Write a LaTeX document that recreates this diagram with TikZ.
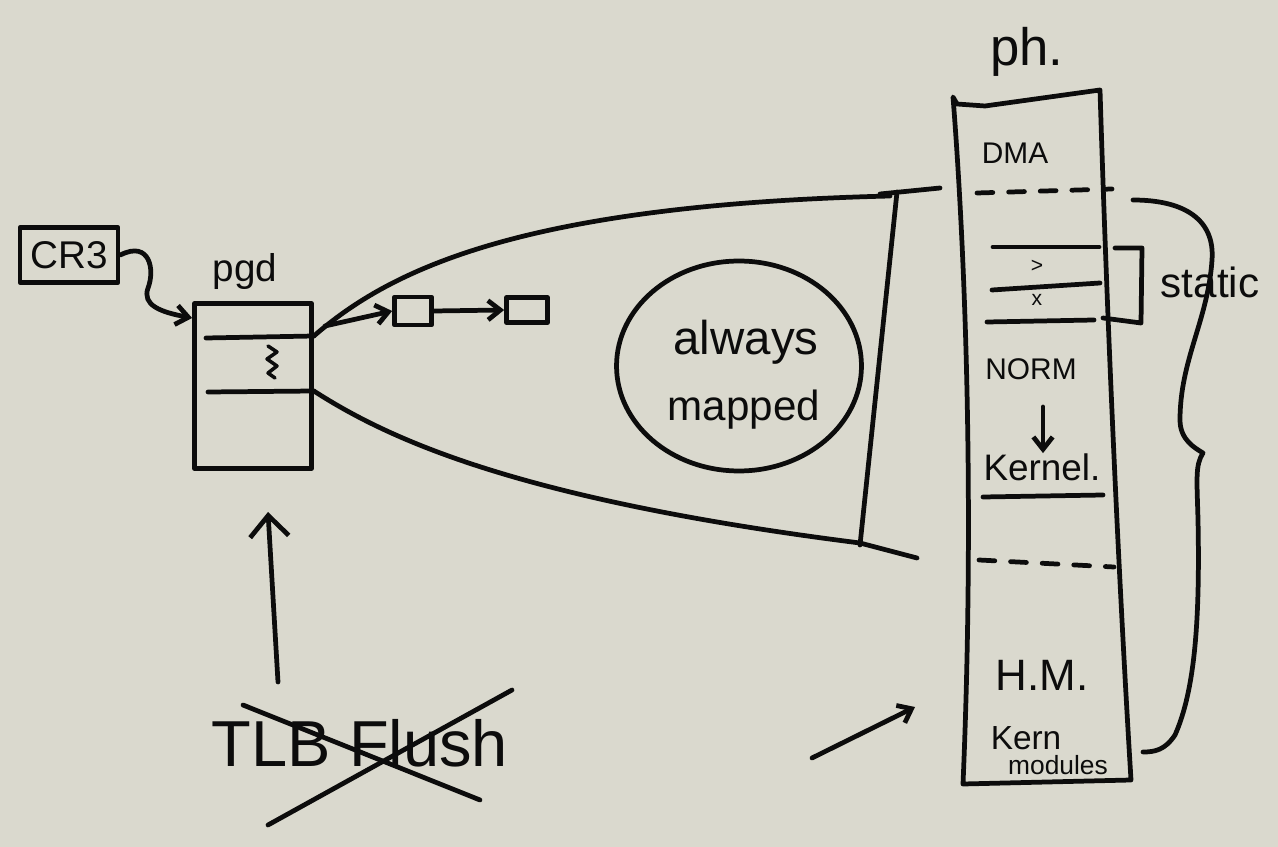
\documentclass[tikz,border=0pt]{standalone}
\usepackage{fontspec}
\setmainfont{Liberation Sans}
\usetikzlibrary{arrows.meta,shapes.geometric}
\definecolor{bg}{RGB}{218,217,206}
\definecolor{inkc}{RGB}{12,12,12}
\begin{document}
\begin{tikzpicture}[x=0.02cm,y=-0.02cm,
  ink/.style={draw=inkc,line width=2.7pt,line cap=round,line join=round},
  arr/.style={ink,-{Straight Barb[length=7pt,width=11pt,line width=2.7pt]}},
  bigarr/.style={ink,-{Straight Barb[length=12pt,width=22pt,line width=2.7pt]}},
  lbl/.style={text=inkc,inner sep=0pt},
  dashedink/.style={ink,dash pattern=on 9pt off 9pt},
  fs/.style={font=\fontsize{#1}{#1}\selectfont}]
\fill[bg] (0,0) rectangle (1278,847);
\useasboundingbox (0,0) rectangle (1278,847);

% CR3 register
\node[ink,lbl,fs=22,minimum width=1.96cm,minimum height=1.1cm] (cr3) at (69,255) {CR3};
% pgd table
\node[ink,minimum width=2.34cm,minimum height=3.3cm,inner sep=0pt] (pgd) at (253,386) {};
\node[lbl,fs=22] (pgdl) at (245,272) {pgd};
\coordinate (e1l) at (206,338); \coordinate (e1r) at (pgd.east |- 0,336);
\coordinate (e2l) at (208,392); \coordinate (e2r) at (pgd.east |- 0,391);
\draw[ink] (e1l) -- (e1r);
\draw[ink] (e2l) -- (e2r);
\draw[ink,line width=2pt] (268,346) -- (277,352) -- (267,359) -- (277,366) -- (268,373) -- (275,378);

\draw[arr] (cr3.east) .. controls (150,240) and (155,270) .. (148,288)
  .. controls (142,305) and (160,312) .. (pgd.west |- 0,318);

% lower level tables
\node[ink,minimum width=0.74cm,minimum height=0.56cm,inner sep=0pt] (t1) at (413,311) {};
\node[ink,minimum width=0.82cm,minimum height=0.5cm,inner sep=0pt] (t2) at (527,310) {};
\coordinate (a0) at (325,326);
\draw[arr] (a0) -- (t1.west);
\draw[arr] (t1.east) -- (t2.west);

% funnel to physical memory
\coordinate (ftop) at (890,196);
\coordinate (fbot) at (917,558);
\draw[ink] (e1r) .. controls (390,270) and (520,205) .. (ftop);
\draw[ink] (e2r) .. controls (390,440) and (520,500) .. (860,543) -- (fbot);
\draw[ink] (880,194) -- (940,188);
\draw[ink] (897,192) -- (860,545);

% always mapped
\node[ink,ellipse,minimum width=4.9cm,minimum height=4.2cm,inner sep=0pt] (am) at (739,366) {};
\node[lbl,fs=27] (amt1) at (746,342) {always};
\node[lbl,fs=24] (amt2) at (744,410) {mapped};

% TLB flush (crossed out)
\node[lbl,fs=37] (tlb) at (360,743) {TLB Flush};
\draw[ink] (243,705) -- (480,800);
\draw[ink] (268,825) -- (512,690);
\coordinate (upA) at (278,682);
\coordinate (upB) at (268,512);
\draw[bigarr] (upA) -- (upB);

% physical memory column
\coordinate (c1) at (953,97);
\coordinate (c2) at (1100,90);
\coordinate (c3) at (1131,780);
\coordinate (c4) at (963,784);
\draw[ink] (c4) .. controls (975,500) and (965,250) .. (c1)
  -- (957,104) -- (985,106) -- (c2)
  .. controls (1108,350) and (1120,600) .. (c3) -- (c4);
\node[lbl,fs=30] (ph) at (1027,52) {ph.};
\node[lbl,fs=17] (dma) at (1015,153) {DMA};
\draw[dashedink] (977,193) -- (1112,189);
\draw[ink] (993,247) -- (1099,247);
\draw[ink] (992,290) -- (1100,283);
\draw[ink] (987,322) -- (1094,320);
\node[lbl,fs=12] (m1) at (1037,266) {>};
\node[lbl,fs=12] (m2) at (1037,300) {x};
\coordinate (b1) at (1115,248);
\coordinate (b4) at (1103,318);
\draw[ink] (b1) -- (1142,248) -- (1141,323) -- (b4);
\node[lbl,fs=24] (static) at (1210,282) {static};
\node[lbl,fs=17] (norm) at (1031,369) {NORM};
\node[lbl,fs=21] (kern) at (1042,467) {Kernel.};
\draw[arr] (1043,407) -- (kern.north -| 1043,0);
\draw[ink] (983,497) -- (1103,495);
\draw[dashedink] (979,560) -- (1114,567);
\node[lbl,fs=25] (hm) at (1042,675) {H.M.};
\node[lbl,fs=19] (kmod) at (1026,738) {Kern};
\node[lbl,fs=15] (kmod2) at (1058,765) {modules};

% big brace
\draw[ink] (1133,200) .. controls (1185,200) and (1215,220) .. (1212,260)
  .. controls (1208,320) and (1180,360) .. (1180,420)
  .. controls (1180,440) and (1195,448) .. (1203,453)
  .. controls (1195,465) and (1197,480) .. (1198,520)
  .. controls (1200,620) and (1195,690) .. (1175,735)
  .. controls (1165,750) and (1155,752) .. (1143,752);

% free arrow pointing at the column
\coordinate (ha) at (812,758);
\coordinate (hb) at (915,707);
\draw[arr] (ha) -- (hb);
\end{tikzpicture}
\end{document}
